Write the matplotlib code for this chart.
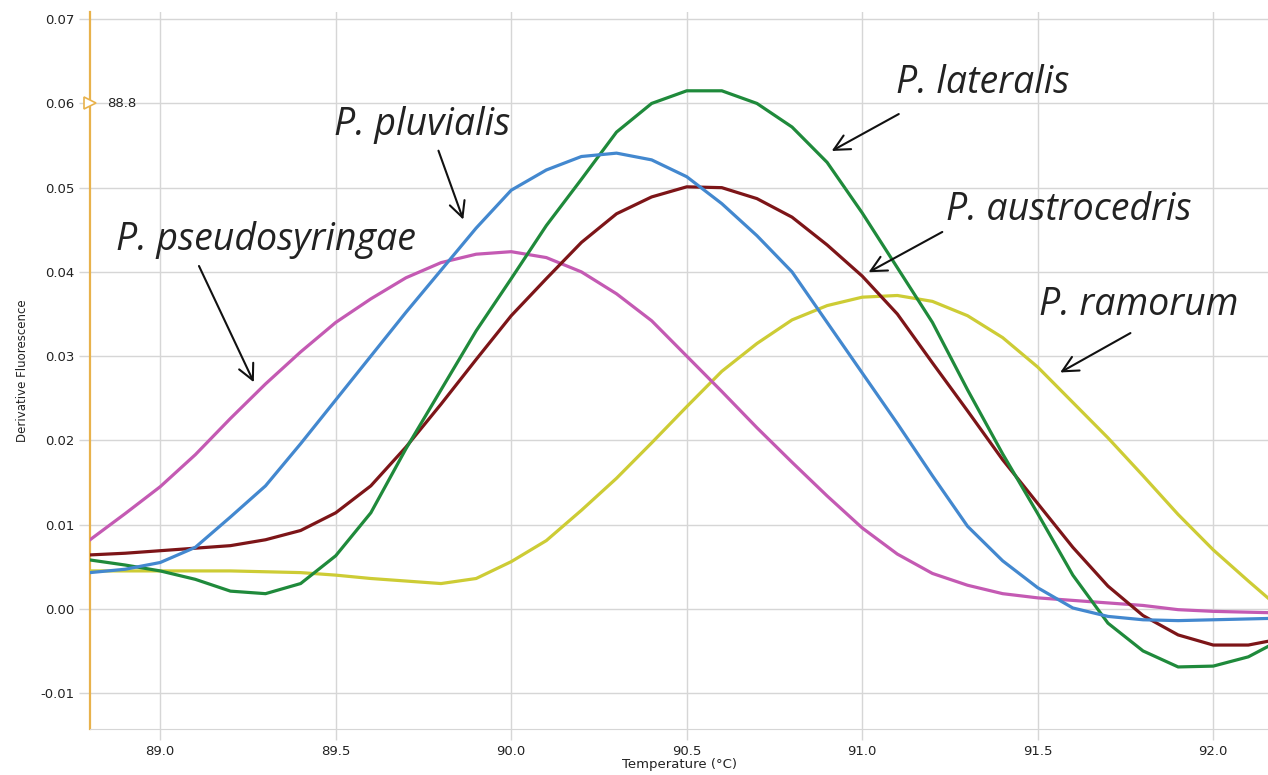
import numpy as np
import matplotlib
matplotlib.use("Agg")
import matplotlib.pyplot as plt

# ── data (step 0.1 °C) ──
temps = [88.8, 88.9, 89.0, 89.1, 89.2, 89.3, 89.4, 89.5, 89.6, 89.7,
         89.8, 89.9, 90.0, 90.1, 90.2, 90.3, 90.4, 90.5, 90.6, 90.7,
         90.8, 90.9, 91.0, 91.1, 91.2, 91.3, 91.4, 91.5, 91.6, 91.7,
         91.8, 91.9, 92.0, 92.1, 92.2]

pseudosyringae = [0.0082, 0.0113, 0.0145, 0.0183, 0.0226, 0.0267, 0.0305, 0.0340, 0.0368, 0.0393,
                  0.0411, 0.0421, 0.0424, 0.0417, 0.0400, 0.0374, 0.0342, 0.0300, 0.0258, 0.0215,
                  0.0174, 0.0134, 0.0096, 0.0065, 0.0042, 0.0028, 0.0018, 0.0013, 0.0010, 0.0007,
                  0.0004, -0.0001, -0.0003, -0.0004, -0.0005]

pluvialis = [0.0043, 0.0047, 0.0055, 0.0073, 0.0109, 0.0146, 0.0196, 0.0248, 0.0300, 0.0352,
             0.0402, 0.0452, 0.0497, 0.0521, 0.0537, 0.0541, 0.0533, 0.0513, 0.0481, 0.0443,
             0.0400, 0.0340, 0.0280, 0.0220, 0.0158, 0.0098, 0.0057, 0.0025, 0.0001, -0.0009,
             -0.0013, -0.0014, -0.0013, -0.0012, -0.0011]

lateralis = [0.0058, 0.0052, 0.0045, 0.0035, 0.0021, 0.0018, 0.0030, 0.0063, 0.0114, 0.0190,
             0.0260, 0.0330, 0.0392, 0.0455, 0.0510, 0.0566, 0.0600, 0.0615, 0.0615, 0.0600,
             0.0572, 0.0530, 0.0470, 0.0405, 0.0340, 0.0260, 0.0184, 0.0113, 0.0040, -0.0017,
             -0.0050, -0.0069, -0.0068, -0.0057, -0.0035]

austrocedris = [0.0064, 0.0066, 0.0069, 0.0072, 0.0075, 0.0082, 0.0093, 0.0114, 0.0146, 0.0192,
                0.0243, 0.0296, 0.0348, 0.0392, 0.0435, 0.0469, 0.0489, 0.0501, 0.0500, 0.0487,
                0.0465, 0.0432, 0.0395, 0.0350, 0.0292, 0.0235, 0.0177, 0.0125, 0.0073, 0.0027,
                -0.0008, -0.0031, -0.0043, -0.0043, -0.0035]

ramorum = [0.0045, 0.0045, 0.0045, 0.0045, 0.0045, 0.0044, 0.0043, 0.0040, 0.0036, 0.0033,
           0.0030, 0.0036, 0.0056, 0.0081, 0.0117, 0.0155, 0.0197, 0.0240, 0.0282, 0.0315,
           0.0343, 0.0360, 0.0370, 0.0372, 0.0365, 0.0348, 0.0322, 0.0287, 0.0245, 0.0203,
           0.0158, 0.0112, 0.0070, 0.0033, -0.0003]

xticks = [89.0, 89.5, 90.0, 90.5, 91.0, 91.5, 92.0]
yticks = [-0.01, 0.00, 0.01, 0.02, 0.03, 0.04, 0.05, 0.06, 0.07]

# (label, text position, arrow tail, arrow head) in data coords
labels = [
    ("P. pseudosyringae", (88.875, 0.0438), (89.107, 0.0410), (89.270, 0.0266)),
    ("P. pluvialis",      (89.496, 0.0574), (89.790, 0.0547), (89.866, 0.0459)),
    ("P. lateralis",      (91.097, 0.0624), (91.111, 0.0589), (90.906, 0.0542)),
    ("P. austrocedris",   (91.239, 0.0474), (91.235, 0.0449), (91.011, 0.0398)),
    ("P. ramorum",        (91.504, 0.0361), (91.771, 0.0329), (91.557, 0.0279)),
]

# ══════════════════════════════════════════════
# Plot
# ══════════════════════════════════════════════
fig = plt.figure(figsize=(12.68, 7.75), dpi=100)
ax = fig.add_axes([0.071, 0.059, 0.929, 0.926])

grid_col = '#d6d6d6'
ax.plot(temps, ramorum, color='#cdcc35', lw=2.3, zorder=3)
ax.plot(temps, pseudosyringae, color='#c45ab3', lw=2.3, zorder=3)
ax.plot(temps, austrocedris, color='#7d1518', lw=2.3, zorder=3)
ax.plot(temps, lateralis, color='#1f8a3b', lw=2.3, zorder=3)
ax.plot(temps, pluvialis, color='#4388cf', lw=2.3, zorder=3)

ax.set_xlim(88.8, 92.156)
ax.set_ylim(-0.0143, 0.0709)
ax.set_xticks(xticks)
ax.set_xticklabels([f'{t:.1f}' for t in xticks])
ax.set_yticks(yticks)
ax.set_yticklabels([f'{v:.2f}' for v in yticks])
ax.grid(True, color=grid_col, lw=1)
ax.set_axisbelow(True)
ax.tick_params(colors=grid_col, labelcolor='#222222', labelsize=9.5,
               length=8, width=1)
for s in ['top', 'right']:
    ax.spines[s].set_visible(False)
ax.spines['bottom'].set_color(grid_col)
ax.spines['left'].set_color('#e8b24c')
ax.spines['left'].set_linewidth(1.6)

ax.set_xlabel('Temperature (°C)', fontsize=9.5, color='#222222', labelpad=0)
ax.set_ylabel('Derivative Fluorescence', fontsize=8.5, color='#222222', labelpad=8)

# cursor marker at 88.8
ax.plot([88.8], [0.06], marker='>', ms=9, mfc='white', mec='#e8b24c',
        mew=1.2, clip_on=False, zorder=4)
ax.text(88.848, 0.06, '88.8', fontsize=9.5, color='#222222', va='center')

for name, tpos, tail, head in labels:
    ax.text(tpos[0], tpos[1], name, fontsize=27, style='italic',
            family='Open Sans', color='#222222', ha='left', va='center', zorder=5)
    ax.annotate('', xy=head, xytext=tail,
                arrowprops=dict(arrowstyle='->', color='#111111', lw=1.5,
                                mutation_scale=28), zorder=5)

fig.savefig('out.png', dpi=100)
